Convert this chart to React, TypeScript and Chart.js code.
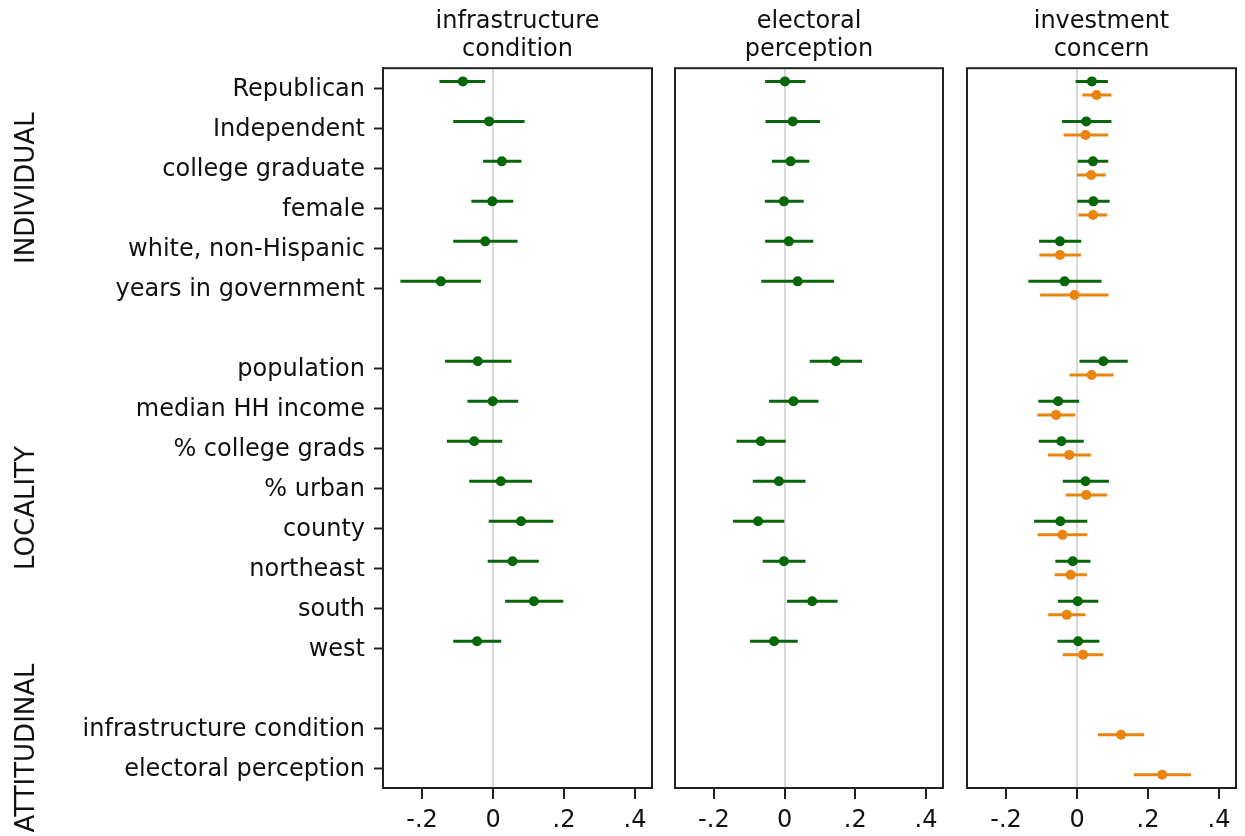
import React, { useEffect, useRef } from 'react';
import { Chart, registerables } from 'chart.js';

Chart.register(...registerables);

// ---------- data ----------
const categories = [
  'Republican', 'Independent', 'college graduate', 'female', 'white, non-Hispanic', 'years in government',
  'population', 'median HH income', '% college grads', '% urban', 'county', 'northeast', 'south', 'west',
  'infrastructure condition', 'electoral perception',
];
const rowPositions = [0, 1, 2, 3, 4, 5, 7, 8, 9, 10, 11, 12, 13, 14, 16, 17];
const groupLabels = ['INDIVIDUAL', 'LOCALITY', 'ATTITUDINAL'];
const groupFirstRow = [0, 7, 16];
const groupLastRow = [5, 14, 17];
const panelTitles = [['infrastructure', 'condition'], ['electoral', 'perception'], ['investment', 'concern']];
const xTicks = [-0.2, 0, 0.2, 0.4];
const xTickLabels = ['-.2', '0', '.2', '.4'];

const infraCoef = [-0.085, -0.011, 0.025, -0.002, -0.022, -0.147, -0.043, -0.001, -0.053, 0.022, 0.079, 0.055, 0.115, -0.045, null, null];
const infraLo = [-0.151, -0.112, -0.028, -0.061, -0.112, -0.261, -0.135, -0.072, -0.130, -0.067, -0.012, -0.015, 0.034, -0.112, null, null];
const infraHi = [-0.022, 0.089, 0.080, 0.057, 0.069, -0.034, 0.052, 0.071, 0.026, 0.110, 0.170, 0.129, 0.198, 0.023, null, null];

const electCoef = [0.001, 0.023, 0.017, -0.002, 0.012, 0.037, 0.145, 0.025, -0.067, -0.016, -0.075, -0.002, 0.078, -0.030, null, null];
const electLo = [-0.055, -0.054, -0.036, -0.056, -0.055, -0.066, 0.071, -0.044, -0.136, -0.090, -0.146, -0.062, 0.007, -0.098, null, null];
const electHi = [0.059, 0.100, 0.070, 0.054, 0.081, 0.140, 0.219, 0.096, 0.003, 0.059, -0.001, 0.059, 0.150, 0.037, null, null];

const investGreenCoef = [0.042, 0.026, 0.045, 0.046, -0.048, -0.035, 0.074, -0.053, -0.044, 0.024, -0.047, -0.012, 0.002, 0.003, null, null];
const investGreenLo = [-0.004, -0.042, 0.002, 0.001, -0.107, -0.137, 0.007, -0.109, -0.108, -0.040, -0.121, -0.061, -0.054, -0.055, null, null];
const investGreenHi = [0.087, 0.097, 0.088, 0.092, 0.012, 0.069, 0.143, 0.006, 0.019, 0.090, 0.029, 0.038, 0.060, 0.063, null, null];

const investOrangeCoef = [0.055, 0.024, 0.040, 0.045, -0.048, -0.007, 0.041, -0.059, -0.022, 0.026, -0.041, -0.018, -0.029, 0.017, 0.124, 0.240];
const investOrangeLo = [0.015, -0.038, 0.000, 0.004, -0.106, -0.104, -0.021, -0.112, -0.082, -0.032, -0.111, -0.063, -0.081, -0.040, 0.059, 0.160];
const investOrangeHi = [0.097, 0.088, 0.081, 0.085, 0.011, 0.089, 0.103, -0.005, 0.039, 0.085, 0.029, 0.028, 0.024, 0.074, 0.189, 0.321];

// ---------- style ----------
const GREEN = '#076607';
const ORANGE = '#e8840f';
const FONT = "'DejaVu Sans', 'Liberation Sans', Arial, sans-serif";
const TEXT = '#111111';
const GREEN_OFFSET = -0.17;
const ORANGE_OFFSET = 0.17;

function makeSeries(coef: (number | null)[], lo: (number | null)[], hi: (number | null)[], offset: number) {
  const out: any[] = [];
  coef.forEach((c, i) => {
    if (c === null || lo[i] === null || hi[i] === null) return;
    out.push({ x: c, y: rowPositions[i] + offset, lo: lo[i], hi: hi[i] });
  });
  return out;
}

const panelPlugin = {
  id: 'panelDecor',
  beforeDatasetsDraw(chart: any) {
    const { ctx, chartArea, scales } = chart;
    const xs = scales.x;
    const ys = scales.y;
    ctx.save();
    ctx.strokeStyle = '#222';
    ctx.lineWidth = 2;
    ctx.strokeRect(chartArea.left, chartArea.top, chartArea.right - chartArea.left, chartArea.bottom - chartArea.top);
    ctx.beginPath();
    ctx.rect(chartArea.left, chartArea.top, chartArea.right - chartArea.left, chartArea.bottom - chartArea.top);
    ctx.clip();
    chart.data.datasets.forEach((ds: any) => {
      ctx.strokeStyle = ds.borderColor;
      ctx.lineWidth = 3;
      ds.data.forEach((p: any) => {
        const y = ys.getPixelForValue(p.y);
        ctx.beginPath();
        ctx.moveTo(xs.getPixelForValue(p.lo), y);
        ctx.lineTo(xs.getPixelForValue(p.hi), y);
        ctx.stroke();
      });
    });
    ctx.restore();
  },
};

const groupPlugin = {
  id: 'groupLabels',
  afterDraw(chart: any) {
    const { ctx, scales } = chart;
    const ys = scales.y;
    ctx.save();
    ctx.fillStyle = TEXT;
    ctx.font = `26px ${FONT}`;
    ctx.textAlign = 'center';
    ctx.textBaseline = 'alphabetic';
    groupLabels.forEach((g, i) => {
      const cy = ys.getPixelForValue((groupFirstRow[i] + groupLastRow[i]) / 2);
      ctx.save();
      ctx.translate(34, cy);
      ctx.rotate(-Math.PI / 2);
      ctx.fillText(g, 0, 0);
      ctx.restore();
    });
    ctx.restore();
  },
};

function buildConfig(panel: number, datasets: any[], showY: boolean, padLeft: number, padRight: number): any {
  return {
    type: 'scatter',
    data: { datasets },
    plugins: showY ? [panelPlugin, groupPlugin] : [panelPlugin],
    options: {
      animation: false,
      responsive: false,
      maintainAspectRatio: false,
      devicePixelRatio: 1,
      layout: { padding: { left: padLeft, right: padRight, top: 0, bottom: 0 } },
      plugins: {
        legend: { display: false },
        tooltip: { enabled: false },
        title: {
          display: true,
          text: panelTitles[panel],
          fullSize: false,
          color: TEXT,
          font: { family: FONT, size: 24, weight: 'normal', lineHeight: 1.15 },
          padding: { top: 8, bottom: 5 },
        },
      },
      scales: {
        x: {
          type: 'linear',
          min: -0.31,
          max: 0.448,
          afterBuildTicks: (s: any) => {
            s.ticks = xTicks.map((v) => ({ value: v }));
          },
          afterFit: (s: any) => {
            s.height = 48;
          },
          ticks: {
            autoSkip: false,
            maxRotation: 0,
            padding: 7,
            color: TEXT,
            font: { family: FONT, size: 24 },
            callback: (_v: any, i: number) => xTickLabels[i],
          },
          grid: {
            drawOnChartArea: true,
            color: (c: any) => (c.tick && c.tick.value === 0 ? '#d9d9d9' : 'rgba(0,0,0,0)'),
            lineWidth: 2,
            tickColor: '#222',
            tickLength: 11,
            tickWidth: 2,
          },
          border: { display: true, color: '#222', width: 2 },
        },
        y: {
          type: 'linear',
          reverse: true,
          min: -0.5,
          max: 17.5,
          display: showY,
          afterBuildTicks: (s: any) => {
            s.ticks = rowPositions.map((v) => ({ value: v }));
          },
          afterFit: (s: any) => {
            if (showY) s.width = 383;
          },
          ticks: {
            autoSkip: false,
            padding: 9,
            labelOffset: 2,
            color: TEXT,
            font: { family: FONT, size: 24 },
            callback: (_v: any, i: number) => categories[i],
          },
          grid: {
            drawOnChartArea: false,
            tickColor: '#222',
            tickLength: 9,
            tickWidth: 2,
          },
          border: { display: true, color: '#222', width: 2 },
        },
      },
    },
  };
}

function dotDataset(data: any[], color: string) {
  return {
    data,
    borderColor: color,
    backgroundColor: color,
    pointRadius: 5,
    pointBorderWidth: 0,
    pointHoverRadius: 5,
    showLine: false,
  };
}

export default function App() {
  const c1 = useRef<HTMLCanvasElement>(null);
  const c2 = useRef<HTMLCanvasElement>(null);
  const c3 = useRef<HTMLCanvasElement>(null);

  useEffect(() => {
    const charts: Chart[] = [];
    charts.push(
      new Chart(
        c1.current as HTMLCanvasElement,
        buildConfig(0, [dotDataset(makeSeries(infraCoef, infraLo, infraHi, GREEN_OFFSET), GREEN)], true, 0, 8)
      )
    );
    charts.push(
      new Chart(
        c2.current as HTMLCanvasElement,
        buildConfig(1, [dotDataset(makeSeries(electCoef, electLo, electHi, GREEN_OFFSET), GREEN)], false, 10, 10)
      )
    );
    charts.push(
      new Chart(
        c3.current as HTMLCanvasElement,
        buildConfig(
          2,
          [
            dotDataset(makeSeries(investGreenCoef, investGreenLo, investGreenHi, GREEN_OFFSET), GREEN),
            dotDataset(makeSeries(investOrangeCoef, investOrangeLo, investOrangeHi, ORANGE_OFFSET), ORANGE),
          ],
          false,
          10,
          9
        )
      )
    );
    return () => charts.forEach((c) => c.destroy());
  }, []);

  const base: React.CSSProperties = { position: 'absolute', top: 0, height: 836 };
  return (
    <div style={{ position: 'absolute', left: 0, top: 0, width: 1245, height: 836, background: '#fff', overflow: 'hidden' }}>
      <canvas ref={c1} width={660} height={836} style={{ ...base, left: 0, width: 660 }} />
      <canvas ref={c2} width={288} height={836} style={{ ...base, left: 665, width: 288 }} />
      <canvas ref={c3} width={288} height={836} style={{ ...base, left: 957, width: 288 }} />
    </div>
  );
}
